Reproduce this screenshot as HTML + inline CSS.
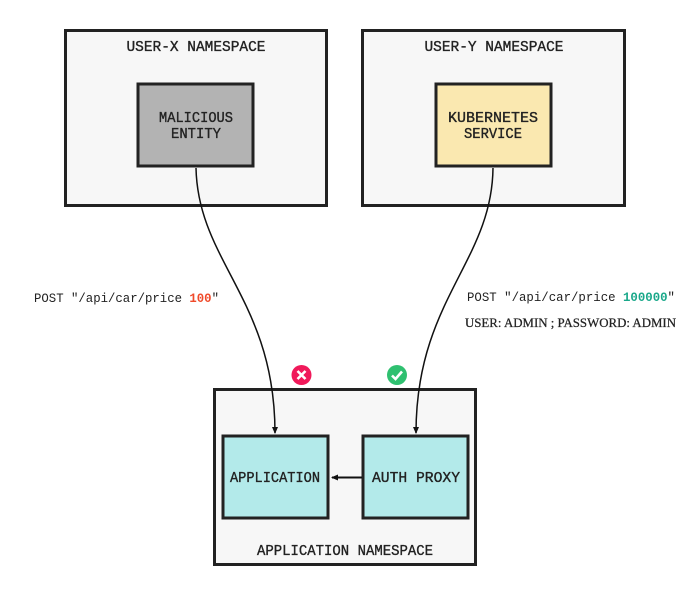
<!DOCTYPE html>
<html><head><meta charset="utf-8"><style>
html,body{margin:0;padding:0;background:#fff;}
svg{display:block;}
.t{font-family:"Liberation Mono","DejaVu Sans Mono",monospace;font-size:14.5px;fill:#222;stroke:#222;stroke-width:0.35;}
.p{font-family:"Liberation Mono","DejaVu Sans Mono",monospace;font-size:13px;fill:#222;}
.s{font-family:"Liberation Serif",serif;font-size:13px;fill:#222;stroke:#222;stroke-width:0.25;}
</style></head><body>
<svg width="698" height="612" viewBox="0 0 698 612" xmlns="http://www.w3.org/2000/svg">
<defs>
<marker id="ah" markerWidth="8" markerHeight="8" refX="6" refY="4" orient="auto" markerUnits="userSpaceOnUse">
<path d="M0,1 L7,4 L0,7 z" fill="#111"/></marker>
</defs>
<rect x="65.5" y="30.5" width="261" height="175" fill="#f7f7f7" stroke="#222" stroke-width="3"/>
<rect x="362.5" y="30.5" width="262" height="175" fill="#f7f7f7" stroke="#222" stroke-width="3"/>
<rect x="214.5" y="389.5" width="261" height="175" fill="#f7f7f7" stroke="#222" stroke-width="3"/>
<rect x="138" y="84" width="115" height="82" fill="#b3b3b3" stroke="#222" stroke-width="3"/>
<rect x="436" y="84" width="115" height="82" fill="#fae8b0" stroke="#222" stroke-width="3"/>
<rect x="223" y="436" width="105" height="82" fill="#b3eaea" stroke="#222" stroke-width="3"/>
<rect x="363" y="436" width="105" height="82" fill="#b3eaea" stroke="#222" stroke-width="3"/>
<text class="t" x="196" y="51" text-anchor="middle" textLength="139" lengthAdjust="spacingAndGlyphs">USER-X NAMESPACE</text>
<text class="t" x="494" y="51" text-anchor="middle" textLength="139" lengthAdjust="spacingAndGlyphs">USER-Y NAMESPACE</text>
<text class="t" x="196" y="122" text-anchor="middle" textLength="74" lengthAdjust="spacingAndGlyphs">MALICIOUS</text>
<text class="t" x="196" y="138" text-anchor="middle" textLength="50" lengthAdjust="spacingAndGlyphs">ENTITY</text>
<text class="t" x="493" y="122" text-anchor="middle" textLength="90" lengthAdjust="spacingAndGlyphs">KUBERNETES</text>
<text class="t" x="493" y="138" text-anchor="middle" textLength="58" lengthAdjust="spacingAndGlyphs">SERVICE</text>
<text class="t" x="275" y="482" text-anchor="middle" textLength="90" lengthAdjust="spacingAndGlyphs">APPLICATION</text>
<text class="t" x="416" y="482" text-anchor="middle" textLength="88" lengthAdjust="spacingAndGlyphs">AUTH PROXY</text>
<text class="t" x="345" y="555" text-anchor="middle" textLength="176" lengthAdjust="spacingAndGlyphs">APPLICATION NAMESPACE</text>
<path d="M196,168 C198,262 275,300 275,433" fill="none" stroke="#111" stroke-width="1.5" marker-end="url(#ah)"/>
<path d="M493,168 C492,262 416,300 416,433" fill="none" stroke="#111" stroke-width="1.5" marker-end="url(#ah)"/>
<path d="M362,477.5 L332,477.5" stroke="#111" stroke-width="2" marker-end="url(#ah)"/>
<text class="p" x="34" y="302" textLength="185" lengthAdjust="spacingAndGlyphs">POST "/api/car/price <tspan fill="#f04a2a" font-weight="bold">100</tspan>"</text>
<text class="p" x="467" y="301" textLength="208" lengthAdjust="spacingAndGlyphs">POST "/api/car/price <tspan fill="#1aa88a" font-weight="bold">100000</tspan>"</text>
<text class="s" x="465" y="327" textLength="211" lengthAdjust="spacingAndGlyphs">USER: ADMIN ; PASSWORD: ADMIN</text>
<circle cx="301.5" cy="375" r="10" fill="#f0195a"/>
<path d="M297.5,371 L305.5,379 M305.5,371 L297.5,379" stroke="#fff" stroke-width="2.6"/>
<circle cx="397" cy="375" r="10" fill="#2fc070"/>
<path d="M392,375.5 L395.5,379 L402,371.5" fill="none" stroke="#fff" stroke-width="2.6"/>
</svg>
</body></html>
